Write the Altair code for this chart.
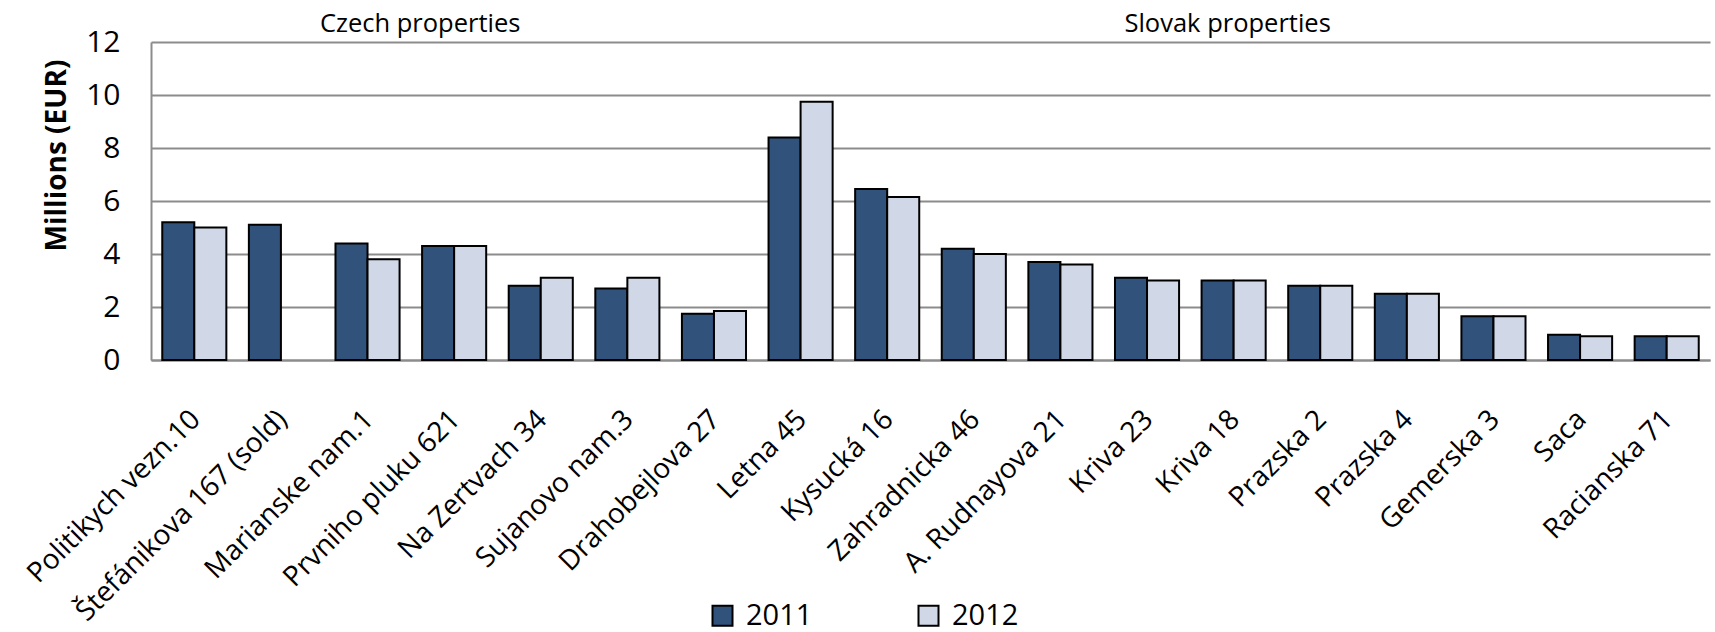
import altair as alt
import pandas as pd

# Property names, in display order (Czech first, then Slovak)
properties = [
    "Politikych vezn.10", "Štefánikova 167 (sold)", "Marianske nam.1",
    "Prvniho pluku 621", "Na Zertvach 34", "Sujanovo nam.3", "Drahobejlova 27",
    "Letna 45", "Kysucká 16", "Zahradnicka 46", "A. Rudnayova 21", "Kriva 23",
    "Kriva 18", "Prazska 2", "Prazska 4", "Gemerska 3", "Saca", "Racianska 71",
]

# Property values, millions of EUR
values_2011 = [5.2, 5.1, 4.4, 4.3, 2.8, 2.7, 1.75, 8.4, 6.45, 4.2, 3.7, 3.1,
               3.0, 2.8, 2.5, 1.65, 0.95, 0.9]
values_2012 = [5.0, None, 3.8, 4.3, 3.1, 3.1, 1.85, 9.75, 6.15, 4.0, 3.6, 3.0,
               3.0, 2.8, 2.5, 1.65, 0.9, 0.9]

years = ["2011", "2012"]
year_colors = ["#30527B", "#D0D8E7"]
y_ticks = [0, 2, 4, 6, 8, 10, 12]

rows = []
for name, v11, v12 in zip(properties, values_2011, values_2012):
    rows.append({"property": name, "year": "2011", "value": v11})
    rows.append({"property": name, "year": "2012", "value": v12})
df = pd.DataFrame(rows)

FONT = "Open Sans"

x_enc = alt.X(
    "property:N",
    sort=properties,
    title=None,
    scale=alt.Scale(paddingInner=0.26, paddingOuter=0.13),
    axis=alt.Axis(
        labelAngle=-45,
        labelAlign="right",
        labelBaseline="top",
        labelFontSize=28,
        labelFont=FONT,
        labelColor="black",
        labelPadding=45,
        labelOffset=-8,
        labelLimit=500,
        ticks=False,
        tickSize=0,
        domainColor="#8C8C8C",
        domainWidth=2,
        grid=False,
    ),
)

bars = (
    alt.Chart(df)
    .transform_filter("isValid(datum.value)")
    .mark_bar(stroke="black", strokeWidth=2)
    .encode(
        x=x_enc,
        xOffset=alt.XOffset("year:N", sort=years, scale=alt.Scale(paddingInner=0, paddingOuter=0)),
        y=alt.Y(
            "value:Q",
            title="Millions (EUR)",
            scale=alt.Scale(domain=[0, 12], nice=False),
            axis=alt.Axis(
                values=y_ticks,
                labelFontSize=30,
                labelFont=FONT,
                labelColor="black",
                labelPadding=31,
                ticks=False,
                tickSize=0,
                domain=True,
                domainColor="#8C8C8C",
                domainWidth=2,
                grid=True,
                gridColor="#8C8C8C",
                gridWidth=2,
                titleFont=FONT,
                titleFontSize=28,
                titleFontWeight="bold",
                titleColor="black",
                titleAngle=-90,
                titleAlign="center",
                titleBaseline="alphabetic",
                titleX=-86,
                titleY=113,
            ),
        ),
        fill=alt.Fill(
            "year:N",
            sort=years,
            scale=alt.Scale(domain=years, range=year_colors),
            legend=alt.Legend(
                title=None,
                orient="none",
                direction="horizontal",
                legendX=557,
                legendY=559,
                padding=0,
                symbolType="square",
                symbolSize=400,
                symbolStrokeColor="black",
                symbolStrokeWidth=2,
                labelFont=FONT,
                labelFontSize=29,
                labelColor="black",
                labelOffset=9,
                columnPadding=101,
            ),
        ),
    )
)

# Group headings above the Czech and Slovak bars
czech_label = (
    alt.Chart(pd.DataFrame({"property": ["Prvniho pluku 621"], "top": [12], "text": ["Czech properties"]}))
    .mark_text(font=FONT, fontSize=25.5, color="black", baseline="alphabetic", dx=-34, dy=-10)
    .encode(x=alt.X("property:N", sort=properties), y=alt.Y("top:Q"), text="text:N")
)
slovak_label = (
    alt.Chart(pd.DataFrame({"property": ["Kriva 18"], "top": [12], "text": ["Slovak properties"]}))
    .mark_text(font=FONT, fontSize=25.5, color="black", baseline="alphabetic", dx=-6, dy=-10)
    .encode(x=alt.X("property:N", sort=properties), y=alt.Y("top:Q"), text="text:N")
)

chart = (
    alt.layer(bars, czech_label, slovak_label)
    .properties(
        width=1559,
        height=318,
        autosize=alt.AutoSizeParams(type="none"),
        padding={"left": 151, "top": 42, "right": 5, "bottom": 272},
        background="white",
    )
    .configure_view(stroke=None)
)

chart.save("out.html", embed_options={"renderer": "svg", "actions": False})
